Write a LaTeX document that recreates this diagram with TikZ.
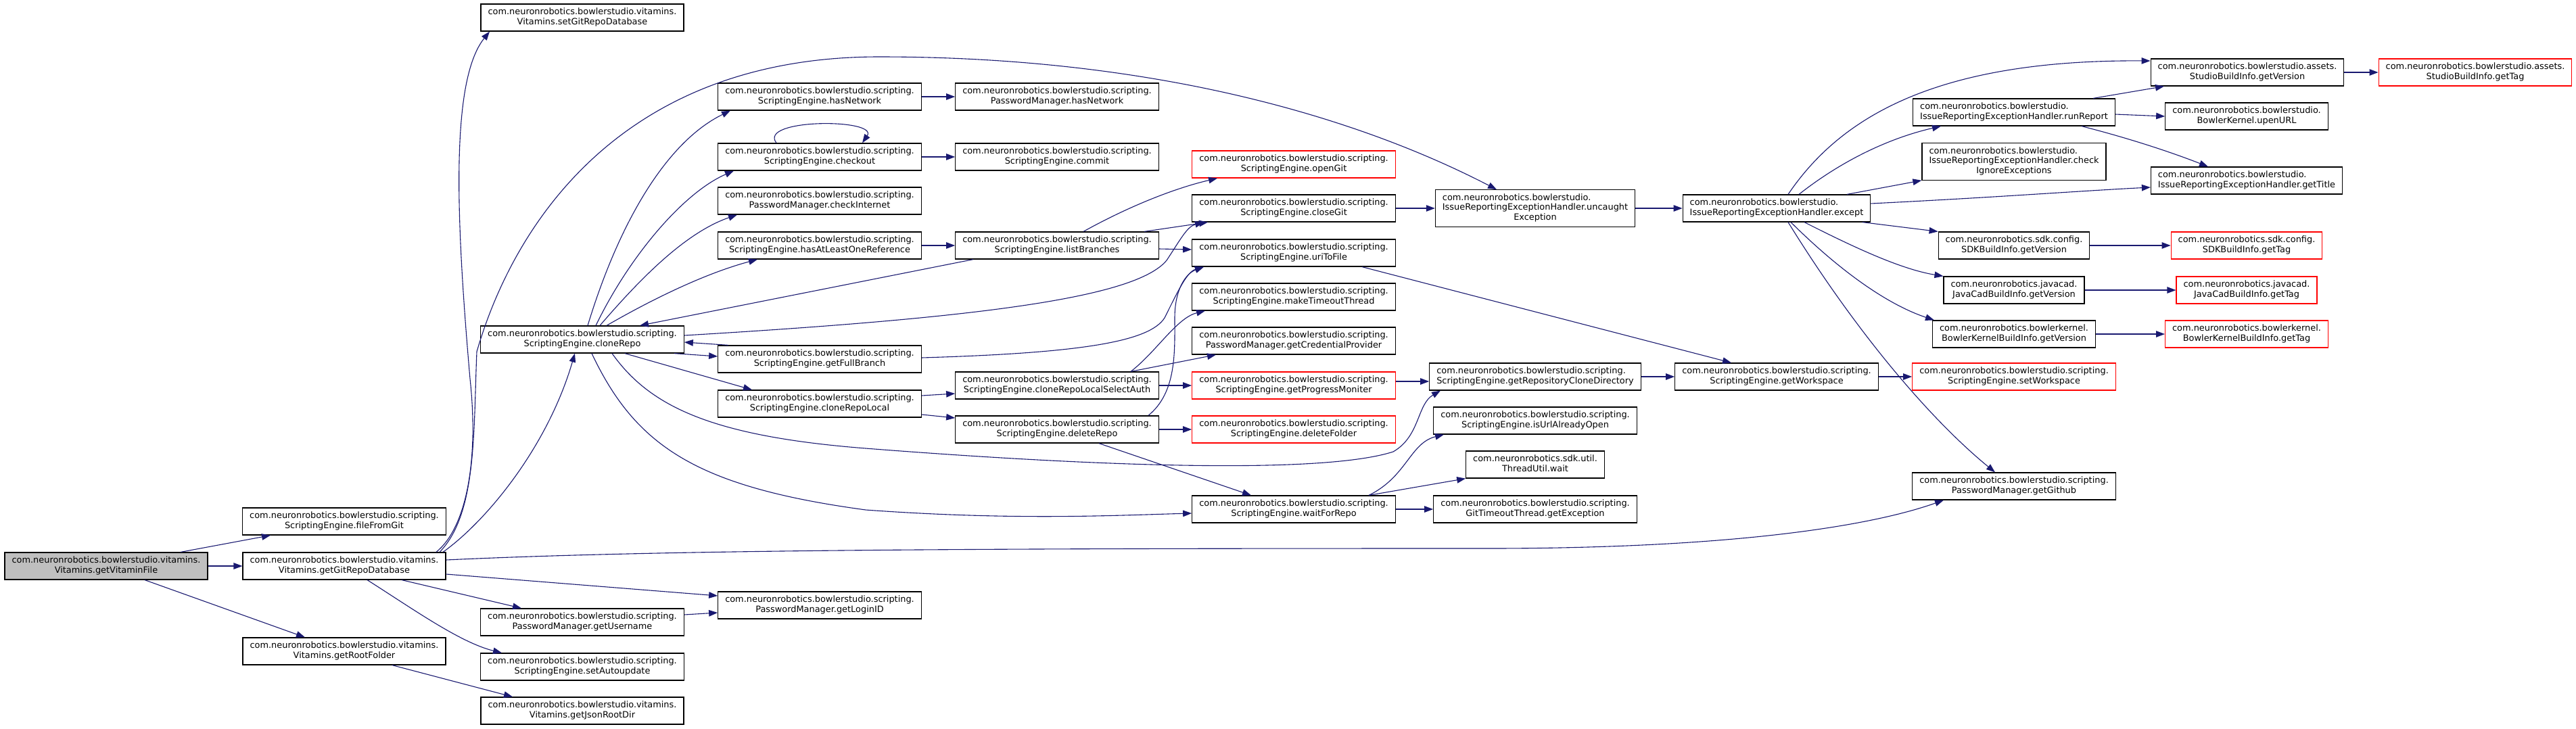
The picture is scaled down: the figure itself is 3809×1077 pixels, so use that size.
\documentclass[tikz,border=0pt]{standalone}
\usepackage{fontspec}
\setmainfont{DejaVu Sans}
\usepackage{tikz}
\usetikzlibrary{arrows.meta}
\definecolor{edgeblue}{HTML}{191970}
\definecolor{rootgray}{HTML}{BFBFBF}
\newcommand{\bsp}{com.neuronrobotics.bowlerstudio.}
\newcommand{\bss}{com.neuronrobotics.bowlerstudio.scripting.}
\newcommand{\bsv}{com.neuronrobotics.bowlerstudio.vitamins.}
\newcommand{\fnl}[2]{\begin{tabular}{@{}l@{}}#1\\\multicolumn{1}{@{}c@{}}{#2}\end{tabular}}
\newcommand{\fnll}[3]{\begin{tabular}{@{}l@{}}#1\\#2\\\multicolumn{1}{@{}c@{}}{#3}\end{tabular}}

\begin{document}
\begin{tikzpicture}[x=1pt, y=-1pt,
    fn/.style={draw=black, line width=1.2pt, fill=white, inner xsep=10.5pt, inner ysep=5pt, minimum height=40pt, font={\fontsize{12.9pt}{14.8pt}\selectfont}},
    fnred/.style={fn, draw=red},
    fnroot/.style={fn, fill=rootgray},
    call/.style={draw=edgeblue, line width=1.1pt, -{Triangle[length=13pt, width=9.5pt]}}]
  \useasboundingbox (0,0) rectangle (3809,1077);
  % callers, left to right
  \node[fnroot] (root) at (157,837) {\fnl{\bsv}{Vitamins.getVitaminFile}};
  \node[fn] (fileFromGit) at (509,771) {\fnl{\bss}{ScriptingEngine.fileFromGit}};
  \node[fn] (gitRepoDB) at (509,837) {\fnl{\bsv}{Vitamins.getGitRepoDatabase}};
  \node[fn] (rootFolder) at (509,963) {\fnl{\bsv}{Vitamins.getRootFolder}};
  \node[fn] (setGitRepoDB) at (861,26) {\fnl{\bsv}{Vitamins.setGitRepoDatabase}};
  \node[fn] (cloneRepo) at (861,502) {\fnl{\bss}{ScriptingEngine.cloneRepo}};
  \node[fn] (username) at (861,920) {\fnl{\bss}{PasswordManager.getUsername}};
  \node[fn] (autoupdate) at (861,986) {\fnl{\bss}{ScriptingEngine.setAutoupdate}};
  \node[fn] (jsonRootDir) at (861,1051) {\fnl{\bsv}{Vitamins.getJsonRootDir}};
  \node[fn] (seHasNetwork) at (1212,143) {\fnl{\bss}{ScriptingEngine.hasNetwork}};
  \node[fn] (checkout) at (1212,232) {\fnl{\bss}{ScriptingEngine.checkout}};
  \node[fn] (checkInternet) at (1212,297) {\fnl{\bss}{PasswordManager.checkInternet}};
  \node[fn] (atLeastOne) at (1212,363) {\fnl{\bss}{ScriptingEngine.hasAtLeastOneReference}};
  \node[fn] (fullBranch) at (1212,531) {\fnl{\bss}{ScriptingEngine.getFullBranch}};
  \node[fn] (cloneLocal) at (1212,597) {\fnl{\bss}{ScriptingEngine.cloneRepoLocal}};
  \node[fn] (loginID) at (1212,895) {\fnl{\bss}{PasswordManager.getLoginID}};
  \node[fn] (pmHasNetwork) at (1563,143) {\fnl{\bss}{PasswordManager.hasNetwork}};
  \node[fn] (commit) at (1563,232) {\fnl{\bss}{ScriptingEngine.commit}};
  \node[fn] (listBranches) at (1563,363) {\fnl{\bss}{ScriptingEngine.listBranches}};
  \node[fn] (selectAuth) at (1563,570) {\fnl{\bss}{ScriptingEngine.cloneRepoLocalSelectAuth}};
  \node[fn] (deleteRepo) at (1563,635) {\fnl{\bss}{ScriptingEngine.deleteRepo}};
  \node[fnred] (openGit) at (1913,243) {\fnl{\bss}{ScriptingEngine.openGit}};
  \node[fn] (closeGit) at (1913,308) {\fnl{\bss}{ScriptingEngine.closeGit}};
  \node[fn] (uriToFile) at (1913,374) {\fnl{\bss}{ScriptingEngine.uriToFile}};
  \node[fn] (makeTimeout) at (1913,439) {\fnl{\bss}{ScriptingEngine.makeTimeoutThread}};
  \node[fn] (credProv) at (1913,504) {\fnl{\bss}{PasswordManager.getCredentialProvider}};
  \node[fnred] (progMon) at (1913,570) {\fnl{\bss}{ScriptingEngine.getProgressMoniter}};
  \node[fnred] (deleteFolder) at (1913,635) {\fnl{\bss}{ScriptingEngine.deleteFolder}};
  \node[fn] (waitForRepo) at (1913,753) {\fnl{\bss}{ScriptingEngine.waitForRepo}};
  \node[fn] (uncaught) at (2270,308) {\fnll{\bsp}{IssueReportingExceptionHandler.uncaught}{Exception}};
  \node[fn] (repoCloneDir) at (2270,557) {\fnl{\bss}{ScriptingEngine.getRepositoryCloneDirectory}};
  \node[fn] (urlOpen) at (2270,622) {\fnl{\bss}{ScriptingEngine.isUrlAlreadyOpen}};
  \node[fn] (threadWait) at (2270,687) {\fnl{com.neuronrobotics.sdk.util.}{ThreadUtil.wait}};
  \node[fn] (getException) at (2270,753) {\fnl{\bss}{GitTimeoutThread.getException}};
  \node[fn] (except) at (2627,308) {\fnl{\bsp}{IssueReportingExceptionHandler.except}};
  \node[fn] (getWorkspace) at (2627,557) {\fnl{\bss}{ScriptingEngine.getWorkspace}};
  \node[fn] (runReport) at (2978,166) {\fnl{\bsp}{IssueReportingExceptionHandler.runReport}};
  \node[fn] (checkIgnore) at (2978,239) {\fnll{\bsp}{IssueReportingExceptionHandler.check}{IgnoreExceptions}};
  \node[fn] (sdkVersion) at (2978,363) {\fnl{com.neuronrobotics.sdk.config.}{SDKBuildInfo.getVersion}};
  \node[fn] (javacadVersion) at (2978,429) {\fnl{com.neuronrobotics.javacad.}{JavaCadBuildInfo.getVersion}};
  \node[fn] (kernelVersion) at (2978,494) {\fnl{com.neuronrobotics.bowlerkernel.}{BowlerKernelBuildInfo.getVersion}};
  \node[fnred] (setWorkspace) at (2978,557) {\fnl{\bss}{ScriptingEngine.setWorkspace}};
  \node[fn] (getGithub) at (2978,719) {\fnl{\bss}{PasswordManager.getGithub}};
  \node[fn] (studioVersion) at (3323,107) {\fnl{com.neuronrobotics.bowlerstudio.assets.}{StudioBuildInfo.getVersion}};
  \node[fn] (upenURL) at (3322,172) {\fnl{\bsp}{BowlerKernel.upenURL}};
  \node[fn] (getTitle) at (3322,267) {\fnl{\bsp}{IssueReportingExceptionHandler.getTitle}};
  \node[fnred] (studioTag) at (3660,107) {\fnl{com.neuronrobotics.bowlerstudio.assets.}{StudioBuildInfo.getTag}};
  \node[fnred] (sdkTag) at (3322,363) {\fnl{com.neuronrobotics.sdk.config.}{SDKBuildInfo.getTag}};
  \node[fnred] (javacadTag) at (3322,429) {\fnl{com.neuronrobotics.javacad.}{JavaCadBuildInfo.getTag}};
  \node[fnred] (kernelTag) at (3322,494) {\fnl{com.neuronrobotics.bowlerkernel.}{BowlerKernelBuildInfo.getTag}};
  % calls from getVitaminFile and the vitamins database
  \draw[call] ([xshift=110pt]root.north) -- ([xshift=-109pt]fileFromGit.south);
  \draw[call] (root.east) -- (gitRepoDB.west);
  \draw[call] ([xshift=57pt]root.south) -- ([xshift=-58pt]rootFolder.north);
  \draw[call] ([xshift=136pt]gitRepoDB.north) .. controls (690,780) and (708,680) .. (695,560) .. controls (675,330) and (665,120) .. ([xshift=-137pt]setGitRepoDB.south);
  \draw[call] ([xshift=141pt]gitRepoDB.north) .. controls (705,760) and (700,640) .. (705,520) .. controls (760,330) and (920,84) .. (1300,84) .. controls (1700,84) and (2000,170) .. ([xshift=-57pt]uncaught.north);
  \draw[call] ([xshift=146pt]gitRepoDB.north) .. controls (720,770) and (810,660) .. ([xshift=-11pt]cloneRepo.south);
  \draw[call] ([yshift=9pt]gitRepoDB.east) .. controls (1000,812) and (1500,811) .. (2200,811) .. controls (2550,811) and (2760,780) .. ([xshift=-104pt]getGithub.south);
  \draw[call] ([yshift=-12pt]gitRepoDB.east) -- ([yshift=14pt]loginID.west);
  \draw[call] ([xshift=85pt]gitRepoDB.south) -- ([xshift=-90pt]username.north);
  \draw[call] ([xshift=34pt]gitRepoDB.south) .. controls (610,900) and (680,950) .. ([xshift=-119pt]autoupdate.north);
  \draw[call] ([yshift=11pt]username.east) -- ([yshift=-11pt]loginID.west);
  \draw[call] ([xshift=71pt]rootFolder.south) -- ([xshift=-103pt]jsonRootDir.north);
  % calls from cloneRepo
  \draw[call] ([xshift=8pt]cloneRepo.north) .. controls (915,330) and (985,210) .. ([xshift=-132pt]seHasNetwork.south);
  \draw[call] ([xshift=20pt]cloneRepo.north) .. controls (930,380) and (1010,285) .. ([xshift=-127pt]checkout.south);
  \draw[call] ([xshift=26pt]cloneRepo.north) .. controls (940,420) and (1010,345) .. ([xshift=-122pt]checkInternet.south);
  \draw[call] ([xshift=36pt]cloneRepo.north) .. controls (960,445) and (1040,405) .. ([xshift=-92pt]atLeastOne.south);
  \draw[call] ([xshift=-124pt]listBranches.south) -- ([xshift=85pt]cloneRepo.north);
  \draw[call] ([yshift=6pt]cloneRepo.east) .. controls (1450,470) and (1680,440) .. (1725,385) .. controls (1745,355) and (1755,335) .. ([xshift=-133pt]closeGit.south);
  \draw[call] ([xshift=136pt]cloneRepo.south) -- ([yshift=4pt]fullBranch.west);
  \draw[call] ([xshift=-135pt]fullBranch.north) -- ([yshift=-4pt]cloneRepo.east);
  \draw[call] ([xshift=63pt]cloneRepo.south) -- ([xshift=-100pt]cloneLocal.north);
  \draw[call] ([xshift=44pt]cloneRepo.south) .. controls (960,600) and (1050,645) .. (1280,663) .. controls (1650,692) and (1960,700) .. (2060,668) .. controls (2100,645) and (2095,598) .. ([xshift=-140pt]repoCloneDir.south);
  \draw[call] ([xshift=14pt]cloneRepo.south) .. controls (940,660) and (1030,720) .. (1280,754) .. controls (1500,770) and (1650,762) .. ([yshift=-6pt]waitForRepo.west);
  \draw[call] ([xshift=-64pt]checkout.north) .. controls (1120,175) and (1300,175) .. ([xshift=63pt]checkout.north);
  % scripting engine internals
  \draw[call] (seHasNetwork.east) -- (pmHasNetwork.west);
  \draw[call] (checkout.east) -- (commit.west);
  \draw[call] (atLeastOne.east) -- (listBranches.west);
  \draw[call] ([xshift=39pt]listBranches.north) .. controls (1660,310) and (1730,280) .. ([xshift=-113pt]openGit.south);
  \draw[call] ([xshift=129pt]listBranches.north) -- ([xshift=-127pt]closeGit.south);
  \draw[call] ([yshift=-5pt]listBranches.east) -- ([yshift=5pt]uriToFile.west);
  \draw[call] ([yshift=2pt]fullBranch.east) .. controls (1600,522) and (1700,505) .. (1722,470) .. controls (1742,430) and (1755,402) .. ([xshift=-133pt]uriToFile.south);
  \draw[call] ([yshift=12pt]cloneLocal.east) -- ([yshift=-12pt]selectAuth.west);
  \draw[call] ([yshift=-16pt]cloneLocal.east) -- ([yshift=17pt]deleteRepo.west);
  \draw[call] ([xshift=109pt]selectAuth.north) .. controls (1710,520) and (1740,470) .. ([xshift=-131pt]makeTimeout.south);
  \draw[call] ([xshift=109pt]selectAuth.north) -- ([xshift=-115pt]credProv.south);
  \draw[call] (selectAuth.east) -- (progMon.west);
  \draw[call] ([xshift=135pt]deleteRepo.north) .. controls (1740,580) and (1737,520) .. (1737,470) .. controls (1737,430) and (1752,405) .. ([xshift=-133pt]uriToFile.south);
  \draw[call] (deleteRepo.east) -- (deleteFolder.west);
  \draw[call] ([xshift=62pt]deleteRepo.south) -- ([xshift=-63pt]waitForRepo.north);
  \draw[call] ([yshift=6pt]progMon.east) -- ([yshift=-7pt]repoCloneDir.west);
  \draw[call] ([xshift=111pt]waitForRepo.north) .. controls (2080,705) and (2085,655) .. ([xshift=-135pt]urlOpen.south);
  \draw[call] ([xshift=111pt]waitForRepo.north) -- (threadWait.south west);
  \draw[call] (waitForRepo.east) -- (getException.west);
  \draw[call] (repoCloneDir.east) -- (getWorkspace.west);
  \draw[call] ([xshift=101pt]uriToFile.south) -- ([xshift=-67pt]getWorkspace.north);
  \draw[call] (getWorkspace.east) -- (setWorkspace.west);
  \draw[call] (closeGit.east) -- (uncaught.west);
  \draw[call] (uncaught.east) -- (except.west);
  % exception handler
  \draw[call] ([xshift=17pt]except.north) .. controls (2720,175) and (2860,88) .. ([yshift=17pt]studioVersion.west);
  \draw[call] ([xshift=33pt]except.north) .. controls (2720,240) and (2790,205) .. ([xshift=-108pt]runReport.south);
  \draw[call] ([xshift=104pt]except.north) -- (checkIgnore.south west);
  \draw[call] ([yshift=7pt]except.east) .. controls (2950,292) and (3080,282) .. ([yshift=-10pt]getTitle.west);
  \draw[call] ([xshift=127pt]except.south) -- (sdkVersion.north west);
  \draw[call] ([xshift=41pt]except.south) .. controls (2740,365) and (2810,398) .. (javacadVersion.north west);
  \draw[call] ([xshift=21pt]except.south) .. controls (2720,400) and (2790,450) .. ([xshift=-118pt]kernelVersion.north);
  \draw[call] ([xshift=17pt]except.south) .. controls (2750,500) and (2860,625) .. ([xshift=-28pt]getGithub.north);
  \draw[call] ([xshift=117pt]runReport.north) -- ([xshift=-123pt]studioVersion.south);
  \draw[call] ([yshift=-3pt]runReport.east) -- (upenURL.west);
  \draw[call] ([xshift=100pt]runReport.south) .. controls (3150,205) and (3210,225) .. ([xshift=-57pt]getTitle.north);
  \draw[call] (studioVersion.east) -- (studioTag.west);
  \draw[call] (sdkVersion.east) -- (sdkTag.west);
  \draw[call] (javacadVersion.east) -- (javacadTag.west);
  \draw[call] (kernelVersion.east) -- (kernelTag.west);
\end{tikzpicture}
\end{document}
